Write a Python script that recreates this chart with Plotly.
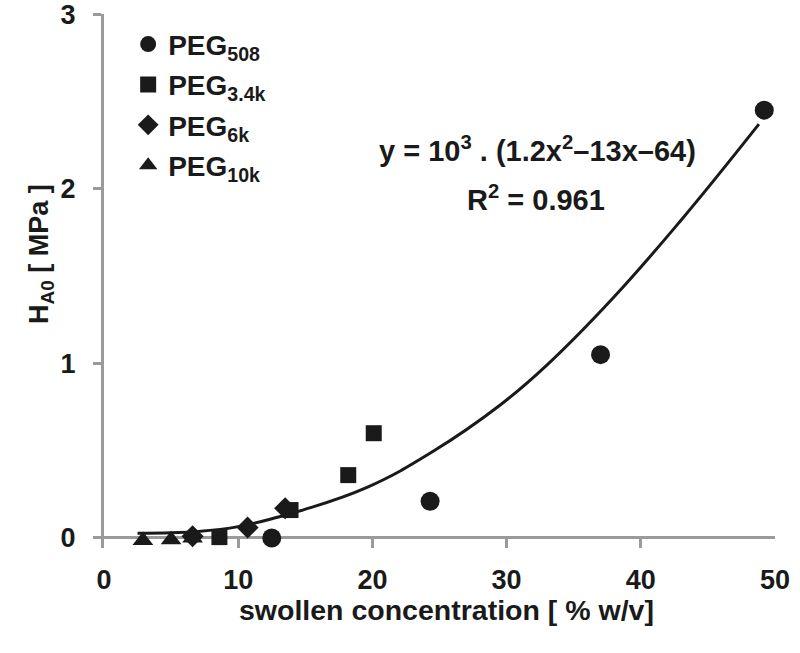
import plotly.graph_objects as go

# ---- data ----
peg508_x = [12.5, 24.3, 37.0, 49.2]
peg508_y = [0.0, 0.21, 1.05, 2.45]

peg34k_x = [8.6, 13.9, 18.2, 20.1]
peg34k_y = [0.005, 0.16, 0.36, 0.60]

peg6k_x = [6.6, 10.7, 13.5]
peg6k_y = [0.01, 0.06, 0.17]

peg10k_x = [2.9, 5.0, 6.6]
peg10k_y = [-0.015, -0.01, 0.0]

fit_x = [2.5, 5.0, 7.0, 10.0, 13.0, 14.6, 19.6, 24.5, 29.5, 33.0, 38.0, 43.0, 48.8]
fit_y = [0.027, 0.030, 0.037, 0.065, 0.120, 0.155, 0.290, 0.495, 0.760, 0.990, 1.380, 1.820, 2.370]

x_ticks = [0, 10, 20, 30, 40, 50]
y_ticks = [0, 1, 2, 3]

series_names = ["PEG<sub>508</sub>", "PEG<sub>3.4k</sub>", "PEG<sub>6k</sub>", "PEG<sub>10k</sub>"]

FONT = "Liberation Sans, Arial, sans-serif"
INK = "#1a1a1a"
AX = "#9a9a9a"

fig = go.Figure()

fig.add_trace(go.Scatter(x=fit_x, y=fit_y, mode="lines",
                         line=dict(color=INK, width=3, shape="spline", smoothing=1.2),
                         showlegend=False, hoverinfo="skip"))

series = [
    (peg508_x, peg508_y, "circle", 19),
    (peg34k_x, peg34k_y, "square", 16),
    (peg6k_x, peg6k_y, "diamond", 17),
    (peg10k_x, peg10k_y, "triangle-up", 18),
]
for i, ((xs, ys, sym, sz), name) in enumerate(zip(series, series_names)):
    fig.add_trace(go.Scatter(x=xs, y=ys, mode="markers", name=name, legendgroup=f"g{i}",
                             marker=dict(symbol=sym, size=sz, color=INK, line=dict(width=0))))

fig.update_layout(
    width=800, height=653,
    margin=dict(l=104, r=25, t=14, b=105, autoexpand=False),
    paper_bgcolor="white", plot_bgcolor="white",
    font=dict(family=FONT, size=27, color=INK, weight="bold"),
    showlegend=True,
    legend=dict(x=0.036, y=0.990, xanchor="left", yanchor="top", bgcolor="rgba(0,0,0,0)",
                font=dict(family=FONT, size=28, color=INK, weight="bold"),
                traceorder="grouped", tracegroupgap=1, itemwidth=30),
    xaxis=dict(range=[0, 50], tickvals=x_ticks, showgrid=False, zeroline=False, showline=False,
               ticks="inside", ticklen=10, tickwidth=3, tickcolor=AX, ticklabelstandoff=13,
               tickfont=dict(family=FONT, size=27, color=INK, weight="bold")),
    yaxis=dict(range=[-0.0573, 3.0005], tickvals=y_ticks, showgrid=False, showline=True, linecolor=AX,
               linewidth=3, zeroline=True, zerolinecolor=AX, zerolinewidth=3,
               ticks="outside", ticklen=8, tickwidth=3, tickcolor=AX, ticklabelstandoff=12,
               ticklabeloverflow="allow",
               tickfont=dict(family=FONT, size=27, color=INK, weight="bold")),
    annotations=[
        dict(text="y = 10<sup>3</sup> . (1.2x<sup>2</sup>–13x–64)", x=32.3, y=2.225, xref="x", yref="y",
             showarrow=False, font=dict(family=FONT, size=29, color=INK, weight="bold")),
        dict(text="R<sup>2</sup> = 0.961", x=32.2, y=1.945, xref="x", yref="y",
             showarrow=False, font=dict(family=FONT, size=29, color=INK, weight="bold")),
        dict(text="swollen concentration [ % w/v]", x=0.5097, y=-0.1498, xref="paper", yref="paper",
             showarrow=False, font=dict(family=FONT, size=28.5, color=INK, weight="bold")),
        dict(text="H<sub>A0</sub> [ MPa ]", x=-0.1222, y=0.5506, xref="paper", yref="paper",
             textangle=-90, showarrow=False, font=dict(family=FONT, size=27, color=INK, weight="bold")),
    ],
)

fig.write_html("out.html", config={"displayModeBar": False},
               post_script="document.body.style.margin='0';document.body.style.overflow='hidden';")
